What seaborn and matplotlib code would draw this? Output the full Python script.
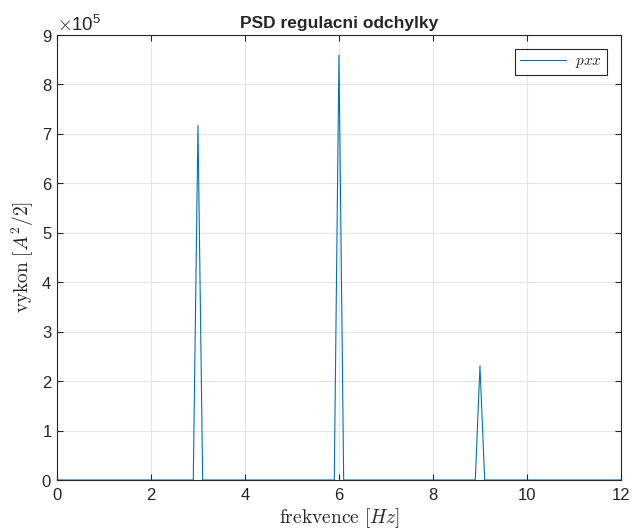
import matplotlib
matplotlib.use("Agg")
import matplotlib.pyplot as plt
import matplotlib.ticker as mticker
import seaborn as sns
import pandas as pd

freq = [0.0, 2.9, 3.0, 3.1, 5.9, 6.0, 6.1, 8.9, 9.0, 9.1, 12.0]
power = [0.0, 0.0, 7.17e5, 0.0, 0.0, 8.59e5, 0.0, 0.0, 2.31e5, 0.0, 0.0]
series_name = "$pxx$"
title = "PSD regulacni odchylky"
xlabel = r"$\mathrm{frekvence}\ [Hz]$"
ylabel = r"$\mathrm{vykon}\ [A^2/2]$"
xticks = [0, 2, 4, 6, 8, 10, 12]
yticks = [0, 1e5, 2e5, 3e5, 4e5, 5e5, 6e5, 7e5, 8e5, 9e5]

df = pd.DataFrame({"f": freq, "p": power, "s": series_name})

sns.set_style("whitegrid")
plt.rcParams["font.family"] = ["Liberation Sans", "DejaVu Sans"]
plt.rcParams["mathtext.fontset"] = "cm"

fig = plt.figure(figsize=(6.33, 5.31), dpi=100)
ax = fig.add_axes([0.090, 0.096, 0.891, 0.838])

sns.lineplot(data=df, x="f", y="p", hue="s", palette=["#0072BD"], linewidth=0.8, ax=ax)

ax.set_xlim(0, 12)
ax.set_ylim(0, 9e5)
ax.set_xticks(xticks)
ax.set_yticks(yticks)
fmt = mticker.ScalarFormatter(useMathText=True)
fmt.set_powerlimits((0, 0))
ax.yaxis.set_major_formatter(fmt)
ax.yaxis.get_offset_text().set_fontsize(13.5)

ax.grid(True, color="#E6E6E6", linewidth=0.8)
for sp in ax.spines.values():
    sp.set_visible(True)
    sp.set_color("#262626")
    sp.set_linewidth(0.8)
ax.tick_params(direction="in", length=4, width=0.8, colors="#262626", labelsize=12,
               top=True, right=True, left=True, bottom=True,
               labeltop=False, labelright=False)
ax.tick_params(axis="x", pad=6)

ax.set_title(title, fontsize=12.5, fontweight="bold", pad=5)
ax.set_xlabel(xlabel, fontsize=14, labelpad=2)
ax.set_ylabel(ylabel, fontsize=14, labelpad=4)

leg = ax.legend(loc="upper right", fontsize=11, frameon=True, fancybox=False,
                edgecolor="#262626", framealpha=1, handlelength=3.0,
                borderaxespad=0.9, borderpad=0.35, handletextpad=0.6)
leg.get_frame().set_linewidth(0.8)

fig.savefig("out.png", dpi=100)
